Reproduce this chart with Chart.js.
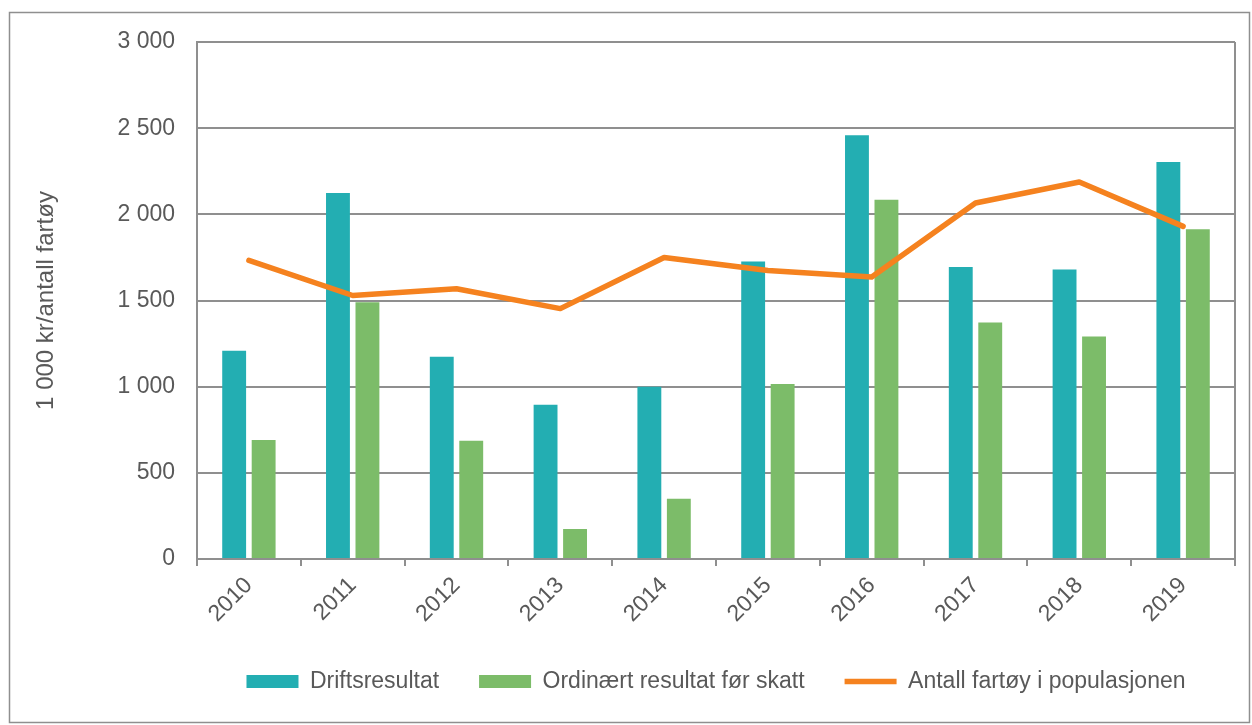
<!DOCTYPE html>
<html>
<head>
<meta charset="utf-8">
<script src="https://cdn.jsdelivr.net/npm/chart.js@4/dist/chart.umd.min.js"></script>
<style>
  html, body { margin: 0; padding: 0; background: #ffffff; }
  #wrap { width: 1252px; height: 725px; position: relative; }
</style>
</head>
<body>
<div id="wrap"><canvas id="c" width="1252" height="725"></canvas></div>
<script>
const years = ['2010', '2011', '2012', '2013', '2014', '2015', '2016', '2017', '2018', '2019'];
const driftsresultat = [1209, 2124, 1174, 895, 1000, 1727, 2459, 1694, 1680, 2304];
const ordinaertResultat = [690, 1490, 686, 174, 349, 1015, 2085, 1372, 1291, 1913];
const antallFartoy = [1733, 1529, 1568, 1453, 1750, 1674, 1636, 2066, 2188, 1930];
const seriesNames = ['Driftsresultat', 'Ordinært resultat før skatt', 'Antall fartøy i populasjonen'];
const yAxisTitle = '1 000 kr/antall fartøy';

const TEXT = '#595959';
const GRID = '#8f8f8f';
const FONT = "'Liberation Sans', Arial, sans-serif";

const framePlugin = {
  id: 'frame',
  afterDraw(chart) {
    const ctx = chart.ctx;
    const a = chart.chartArea;
    ctx.save();
    ctx.strokeStyle = GRID;
    ctx.lineWidth = 2;
    ctx.beginPath();
    ctx.moveTo(a.right, a.top);
    ctx.lineTo(a.right, a.bottom);
    ctx.stroke();
    ctx.lineWidth = 1.5;
    ctx.strokeRect(9.5, 12.5, 1240, 710);
    ctx.restore();
  }
};

function fmt(v) {
  return String(v).replace(/\B(?=(\d{3})+(?!\d))/g, ' ');
}

new Chart(document.getElementById('c'), {
  type: 'bar',
  data: {
    labels: years,
    datasets: [
      {
        type: 'line',
        label: seriesNames[2],
        data: antallFartoy,
        borderColor: '#F5821F',
        backgroundColor: '#F5821F',
        borderWidth: 5.5,
        pointRadius: 0,
        pointHoverRadius: 0,
        pointStyle: 'line',
        borderCapStyle: 'round',
        borderJoinStyle: 'round',
        tension: 0,
        order: 0
      },
      {
        label: seriesNames[0],
        data: driftsresultat,
        backgroundColor: '#23AEB2',
        borderWidth: 0,
        pointStyle: 'rect',
        order: 1
      },
      {
        label: seriesNames[1],
        data: ordinaertResultat,
        backgroundColor: '#7CBC69',
        borderWidth: 0,
        pointStyle: 'rect',
        order: 1
      }
    ]
  },
  options: {
    responsive: false,
    animation: false,
    devicePixelRatio: 1,
    layout: { padding: { left: 28, right: 17, top: 42, bottom: 22 } },
    datasets: {
      bar: { categoryPercentage: 0.568, barPercentage: 0.81 }
    },
    plugins: {
      tooltip: { enabled: false },
      legend: {
        position: 'bottom',
        fullSize: false,
        labels: {
          sort: (a, b) => (a.datasetIndex === 0 ? 1 : 0) - (b.datasetIndex === 0 ? 1 : 0),
          usePointStyle: true,
          pointStyleWidth: 52,
          boxWidth: 52,
          boxHeight: 13,
          padding: 40,
          color: TEXT,
          font: { family: FONT, size: 23 }
        }
      }
    },
    scales: {
      x: {
        grid: { display: true, drawOnChartArea: false, drawTicks: true, tickLength: 7, offset: true, color: GRID, lineWidth: 2 },
        border: { display: true, color: GRID, width: 2 },
        ticks: {
          color: TEXT,
          font: { family: FONT, size: 23 },
          maxRotation: 45,
          minRotation: 45,
          padding: 6
        },
        afterFit(scale) { scale.height = 71; }
      },
      y: {
        min: 0,
        max: 3000,
        ticks: {
          stepSize: 500,
          color: TEXT,
          font: { family: FONT, size: 23 },
          padding: 22,
          callback: (v) => fmt(v)
        },
        grid: { color: GRID, lineWidth: 2, drawTicks: false },
        border: { display: true, color: GRID, width: 2 },
        title: {
          display: true,
          text: yAxisTitle,
          color: TEXT,
          font: { family: FONT, size: 24 }
        },
        afterFit(scale) { scale.width = 169; }
      }
    }
  },
  plugins: [framePlugin]
});
</script>
</body>
</html>
